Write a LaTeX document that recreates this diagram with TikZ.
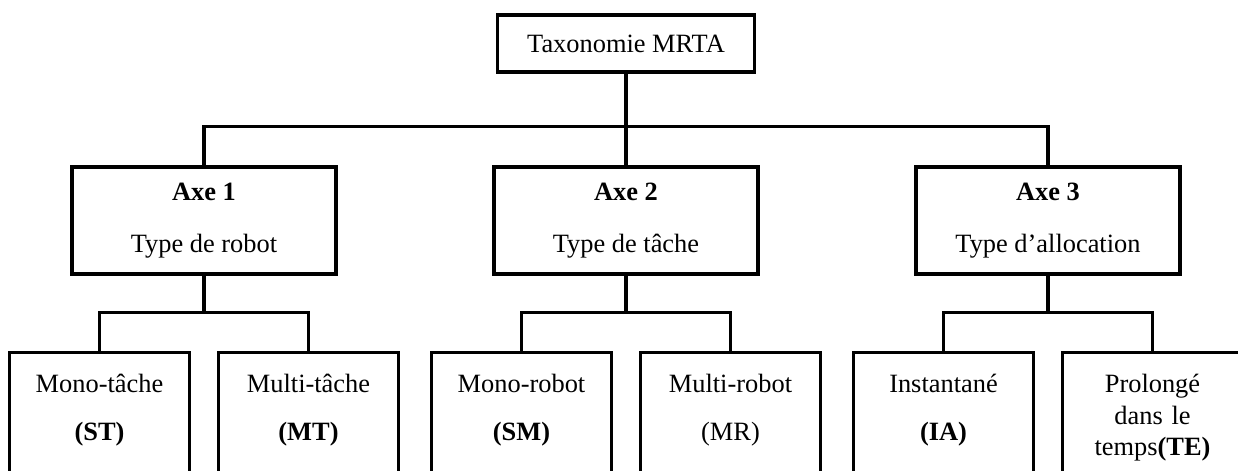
\documentclass[tikz,border=0pt]{standalone}
\usepackage{fontspec}
\setmainfont{Liberation Serif}
\tikzset{
every node/.style={draw, font=\fontsize{13.2}{15.8}\selectfont},
root/.style={minimum width=128.5pt, minimum height=28.5pt},
axis/.style={minimum width=132pt, minimum height=53.5pt, align=center},
leaf/.style={anchor=north, text width=78pt, inner xsep=6pt, inner ysep=8pt,
    align=center, text height=12pt, text depth=42pt},
elbow/.style={edge from parent path={(\tikzparentnode.south) -- ++(0,-#1) -| (\tikzchildnode.north)}},
}

\begin{document}
\begin{tikzpicture}[
    line width=1.6pt,
    level 1/.style={sibling distance=211pt, level distance=88.5pt, elbow=26.5pt},
    level 2/.style={sibling distance=104.5pt, level distance=65.25pt, elbow=18.5pt}
]
    \path[use as bounding box, clip] (-313pt,21.75pt) rectangle ++(619pt,-235.5pt);
    \node[root] (mrta) {Taxonomie MRTA}
    child {node[axis] (axe1) {\textbf{Axe 1}\\[10pt]Type de robot}
        child {node[leaf] (st) {Mono-tâche\\[8pt]\textbf{(ST)}}}
        child {node[leaf] (mt) {Multi-tâche\\[8pt]\textbf{(MT)}}}
    }
    child {node[axis] (axe2) {\textbf{Axe 2}\\[10pt]Type de tâche}
        child {node[leaf] (sm) {Mono-robot\\[8pt]\textbf{(SM)}}}
        child {node[leaf] (mr) {Multi-robot\\[8pt](MR)}}
    }
    child {node[axis] (axe3) {\textbf{Axe 3}\\[10pt]Type d’allocation}
        child {node[leaf] (ia) {Instantané\\[8pt]\textbf{(IA)}}}
        child {node[leaf] (te) {Prolongé\\dans le\\temps\textbf{(TE)}}}
    };
\end{tikzpicture}
\end{document}
